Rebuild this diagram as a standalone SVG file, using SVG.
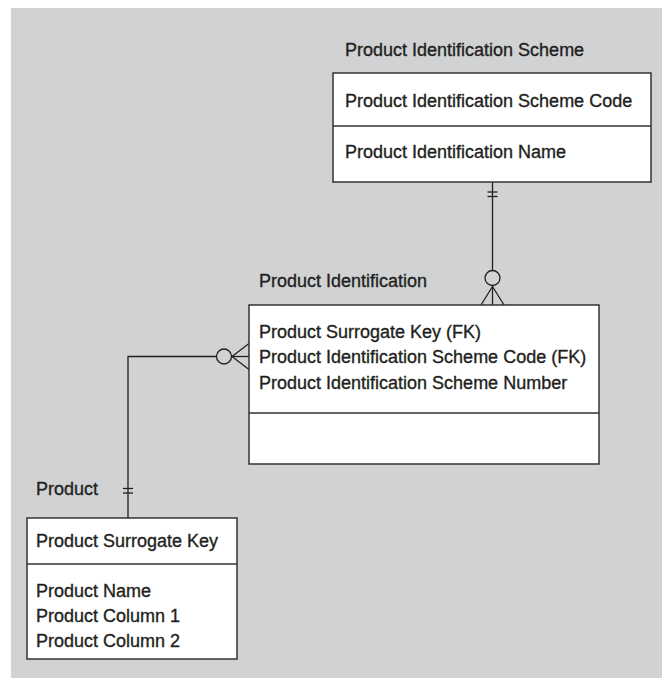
<svg xmlns="http://www.w3.org/2000/svg" width="662" height="678" viewBox="0 0 662 678">
<style>
.bg{fill:#d1d2d4}
.box{fill:#ffffff;stroke:#333333;stroke-width:1.5}
.div{stroke:#333333;stroke-width:1.5;fill:none}
.ln{stroke:#231f20;stroke-width:1.3;fill:none}
.t{font-family:"Liberation Sans",Arial,sans-serif;font-size:18px;fill:#231f20;stroke:#231f20;stroke-width:0.35}
</style>
<rect class="bg" x="11" y="8" width="651" height="670"/>
<g id="connectors">
  <line class="ln" x1="492.5" y1="182" x2="492.5" y2="270.5"/>
  <line class="ln" x1="487.5" y1="192" x2="497.5" y2="192"/>
  <line class="ln" x1="487.5" y1="196.5" x2="497.5" y2="196.5"/>
  <circle class="ln" cx="492.5" cy="278" r="7.5"/>
  <line class="ln" x1="492.5" y1="285.5" x2="492.5" y2="305"/>
  <line class="ln" x1="492.5" y1="286.5" x2="481" y2="305"/>
  <line class="ln" x1="492.5" y1="286.5" x2="504" y2="305"/>
  <polyline class="ln" points="128,518 128,356.5 216.5,356.5"/>
  <line class="ln" x1="123" y1="488.5" x2="133" y2="488.5"/>
  <line class="ln" x1="123" y1="493" x2="133" y2="493"/>
  <circle class="ln" cx="224" cy="356.5" r="7.5"/>
  <line class="ln" x1="231.5" y1="356.5" x2="249" y2="356.5"/>
  <line class="ln" x1="232" y1="356.5" x2="249" y2="343.5"/>
  <line class="ln" x1="232" y1="356.5" x2="249" y2="369.5"/>
</g>
<g id="product-identification-scheme">
  <text class="t" x="345" y="56">Product Identification Scheme</text>
  <rect class="box" x="333" y="73" width="318" height="109"/>
  <line class="div" x1="333" y1="126" x2="651" y2="126"/>
  <text class="t" x="345" y="107">Product Identification Scheme Code</text>
  <text class="t" x="345" y="158">Product Identification Name</text>
</g>
<g id="product-identification">
  <text class="t" x="259" y="287">Product Identification</text>
  <rect class="box" x="249" y="305" width="350" height="159"/>
  <line class="div" x1="249" y1="413" x2="599" y2="413"/>
  <text class="t" x="259" y="338">Product Surrogate Key (FK)</text>
  <text class="t" x="259" y="363">Product Identification Scheme Code (FK)</text>
  <text class="t" x="259" y="389">Product Identification Scheme Number</text>
</g>
<g id="product">
  <text class="t" x="36" y="495">Product</text>
  <rect class="box" x="27" y="518" width="210" height="141"/>
  <line class="div" x1="27" y1="564" x2="237" y2="564"/>
  <text class="t" x="36" y="547">Product Surrogate Key</text>
  <text class="t" x="36" y="597">Product Name</text>
  <text class="t" x="36" y="622">Product Column 1</text>
  <text class="t" x="36" y="647">Product Column 2</text>
</g>
</svg>
